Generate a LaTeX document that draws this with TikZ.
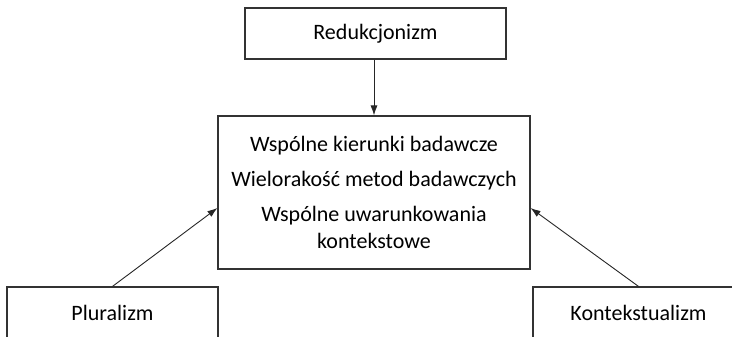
\documentclass[tikz,border=0pt]{standalone}
\usepackage{fontspec}
\setmainfont{Carlito}
\usetikzlibrary{arrows.meta,positioning}

\tikzset{
  box/.style={draw=black!80,line width=1.2pt,fill=white,
    minimum height=51pt,inner sep=0pt,align=center,
    font=\fontsize{22}{27}\selectfont},
  arr/.style={draw=black!85,line width=0.9pt,-{Latex[length=10pt,width=7pt]}}
}

\begin{document}
\begin{tikzpicture}[x=1pt,y=1pt]

\useasboundingbox (0,0) rectangle (732,-337);
\clip (0,0) rectangle (732,-337);

%====================================================
% Boxes
%====================================================
\node[box,minimum width=261pt] (reduk) at (375.5,-33.5) {Redukcjonizm};

\node[box,minimum width=312pt,minimum height=153pt] (wspolne) at (374,-192.5)
{Wspólne kierunki badawcze\\[8pt]
 Wielorakość metod badawczych\\[8pt]
 Wspólne uwarunkowania\\
 kontekstowe};

\node[box,minimum width=211pt] (plural) at (112.5,-312.5) {Pluralizm};
\node[box,minimum width=211pt] (kontekst) at (638.5,-312.5) {Kontekstualizm};

%====================================================
% Arrows
%====================================================
\draw[arr] (wspolne.north |- reduk.south) -- (wspolne.north);
\draw[arr] (plural.north) -- ([yshift=-15.5pt]wspolne.west);
\draw[arr] (kontekst.north) -- ([yshift=-15.5pt]wspolne.east);

\end{tikzpicture}
\end{document}
